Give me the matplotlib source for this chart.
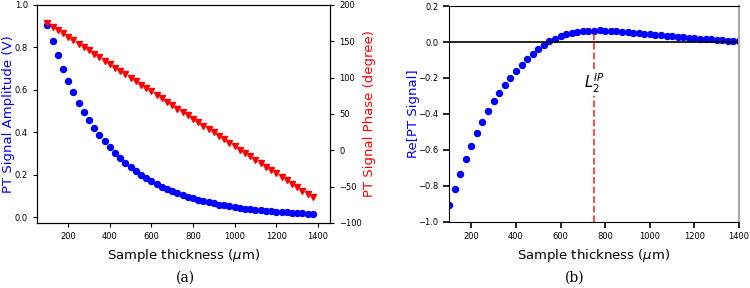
import numpy as np
import matplotlib
matplotlib.use('Agg')
import matplotlib.pyplot as plt

# panel (a): amplitude and phase vs thickness
thick_a = np.arange(100, 1400, 25)
amp = [0.907, 0.832, 0.762, 0.699, 0.641, 0.588, 0.540, 0.497, 0.458, 0.422,
       0.389, 0.357, 0.328, 0.301, 0.277, 0.255, 0.235, 0.216, 0.199, 0.183,
       0.168, 0.155, 0.143, 0.132, 0.121, 0.112, 0.103, 0.095, 0.088, 0.081,
       0.075, 0.069, 0.064, 0.059, 0.055, 0.051, 0.047, 0.044, 0.040, 0.037,
       0.035, 0.032, 0.030, 0.028, 0.026, 0.024, 0.022, 0.020, 0.019, 0.017,
       0.016, 0.014]
phase = [175.0, 170.3, 165.6, 160.9, 156.2, 151.5, 146.8, 142.1, 137.4, 132.7,
         128.0, 123.3, 118.6, 113.9, 109.2, 104.5, 99.8, 95.1, 90.4, 85.7,
         81.0, 76.3, 71.6, 66.9, 62.2, 57.5, 52.8, 48.1, 43.4, 38.7,
         34.0, 29.3, 24.6, 19.9, 15.2, 10.5, 5.8, 1.1, -3.6, -8.3,
         -13.0, -17.7, -22.4, -27.1, -31.8, -36.5, -41.2, -45.9, -50.6, -55.3,
         -60.0, -64.7]

# panel (b): real part of PT signal
thick_b = np.arange(100, 1401, 25)
re_pt = [-0.904, -0.817, -0.732, -0.651, -0.577, -0.507, -0.443, -0.384, -0.330, -0.282,
         -0.238, -0.198, -0.161, -0.126, -0.095, -0.066, -0.040, -0.017, 0.003, 0.019,
         0.032, 0.042, 0.049, 0.055, 0.059, 0.062, 0.063, 0.064, 0.063, 0.062,
         0.060, 0.058, 0.055, 0.052, 0.049, 0.046, 0.043, 0.040, 0.037, 0.034,
         0.031, 0.028, 0.026, 0.023, 0.021, 0.018, 0.016, 0.014, 0.012, 0.010,
         0.008, 0.006, 0.005]
L2_ip = 750

fig = plt.figure(figsize=(7.5, 2.88), dpi=100)

ax1 = fig.add_axes([0.0493, 0.2257, 0.3907, 0.757])
ax1.plot(thick_a, amp, 'o', color='blue', markersize=4.3)
ax1.set_xlim(50, 1458)
ax1.set_ylim(-0.028, 1.0)
ax1.set_ylabel('PT Signal Amplitude (V)', color='blue', fontsize=9.5, labelpad=0)
ax1.set_xlabel(r'Sample thickness ($\mu$m)', fontsize=9.5)
ax1.tick_params(labelsize=6, length=3)

ax1b = ax1.twinx()
ax1b.plot(thick_a, phase, 'v', color='red', markersize=4.3)
ax1b.set_ylim(-100, 200)
ax1b.set_ylabel('PT Signal Phase (degree)', color='red', fontsize=9.5, labelpad=1)
ax1b.tick_params(labelsize=6, length=3)

ax2 = fig.add_axes([0.5987, 0.2300, 0.3867, 0.749])
ax2.plot(thick_b, re_pt, 'o', color='blue', markersize=4.3)
ax2.axhline(0, color='black', lw=1.2)
ax2.vlines(L2_ip, -1.0, max(re_pt), colors='red', linestyles='--', lw=1.3, alpha=0.75)
ax2.text(L2_ip, -0.23, r'$L_2^{IP}$', ha='center', va='center', fontsize=10.5,
         bbox=dict(facecolor='white', edgecolor='none', pad=1))
ax2.set_xlim(100, 1400)
ax2.set_ylim(-1.0, 0.2)
ax2.set_xlabel(r'Sample thickness ($\mu$m)', fontsize=9.5)
ax2.set_ylabel('Re[PT Signal]', color='blue', fontsize=9.5, labelpad=-1)
ax2.tick_params(labelsize=6, length=4, width=1.2)
ax2.spines['right'].set_color('#aaaaaa')
ax2.spines['right'].set_linewidth(1.5)

fig.text(185 / 750, 1 - 278 / 288, '(a)', ha='center', va='center',
         fontsize=10, family='DejaVu Serif')
fig.text(575 / 750, 1 - 278 / 288, '(b)', ha='center', va='center',
         fontsize=10, family='DejaVu Serif')

plt.savefig('out.png', dpi=100)
plt.close()
